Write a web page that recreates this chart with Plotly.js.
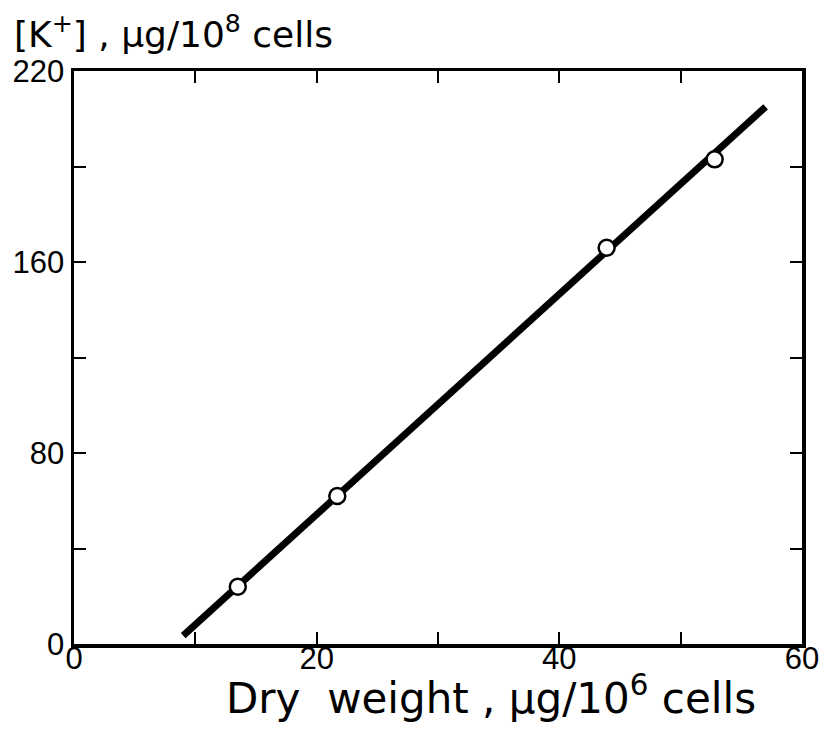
<!DOCTYPE html>
<html><head><meta charset="utf-8">
<script src="https://cdn.plot.ly/plotly-3.0.1.min.js"></script>
<style>body{margin:0;background:#fff}#chart{width:820px;height:742px}</style>
</head><body><div id="chart"></div>
<script>
const dryWeight = [13.5, 21.7, 43.9, 52.8];
const potassium = [24, 62, 166, 203];
const fitX = [9, 57];
const fitY = [3.5, 225];
const xTickVals = [0, 10, 20, 30, 40, 50, 60];
const xTickText = ["0", "", "20", "", "40", "", "60"];
const yTickVals = [0, 40, 80, 120, 160, 200, 240];
const yTickText = ["0", "", "80", "", "160", "", "220"];
const xTitle = "Dry  weight , \u03bcg/10<sup>6</sup> cells";
const yTitle = "[K<sup>+</sup>] , \u03bcg/10<sup>8</sup> cells";

const font = "Liberation Sans, Arial, sans-serif";
const titleFont = "DejaVu Sans, sans-serif";
const traces = [
  {x: fitX, y: fitY, mode: "lines", line: {color: "#000", width: 7}, hoverinfo: "skip"},
  {x: dryWeight, y: potassium, mode: "markers",
   marker: {symbol: "circle", size: 16, color: "#fff", line: {color: "#000", width: 2.5}}}
];
const axisCommon = {showline: true, linecolor: "#000", linewidth: 3.5, mirror: "ticks",
  ticks: "inside", ticklen: 12, tickwidth: 2, tickcolor: "#000", showgrid: false, zeroline: false,
  tickfont: {family: font, size: 31, color: "#000"}};
const layout = {
  width: 820, height: 742, showlegend: false,
  paper_bgcolor: "#fff", plot_bgcolor: "#fff",
  margin: {l: 74, r: 18, t: 71, b: 98},
  xaxis: Object.assign({}, axisCommon, {range: [0, 60], tickmode: "array", tickvals: xTickVals, ticktext: xTickText,
    ticklabelstandoff: -16}),
  yaxis: Object.assign({}, axisCommon, {range: [0, 240], tickmode: "array", tickvals: yTickVals, ticktext: yTickText,
    ticklabelstandoff: 0}),
  annotations: [
    {text: yTitle, xref: "paper", yref: "paper",
     x: -0.085, y: 1.0, xanchor: "left", yanchor: "bottom", yshift: 14, showarrow: false,
     font: {family: titleFont, size: 36, color: "#000"}},
    {text: xTitle, xref: "paper", yref: "paper",
     x: 0.573, y: 0, xanchor: "center", yanchor: "top", yshift: -22, showarrow: false,
     font: {family: titleFont, size: 42, color: "#000"}}
  ]
};
Plotly.newPlot("chart", traces, layout, {staticPlot: true});
</script></body></html>
